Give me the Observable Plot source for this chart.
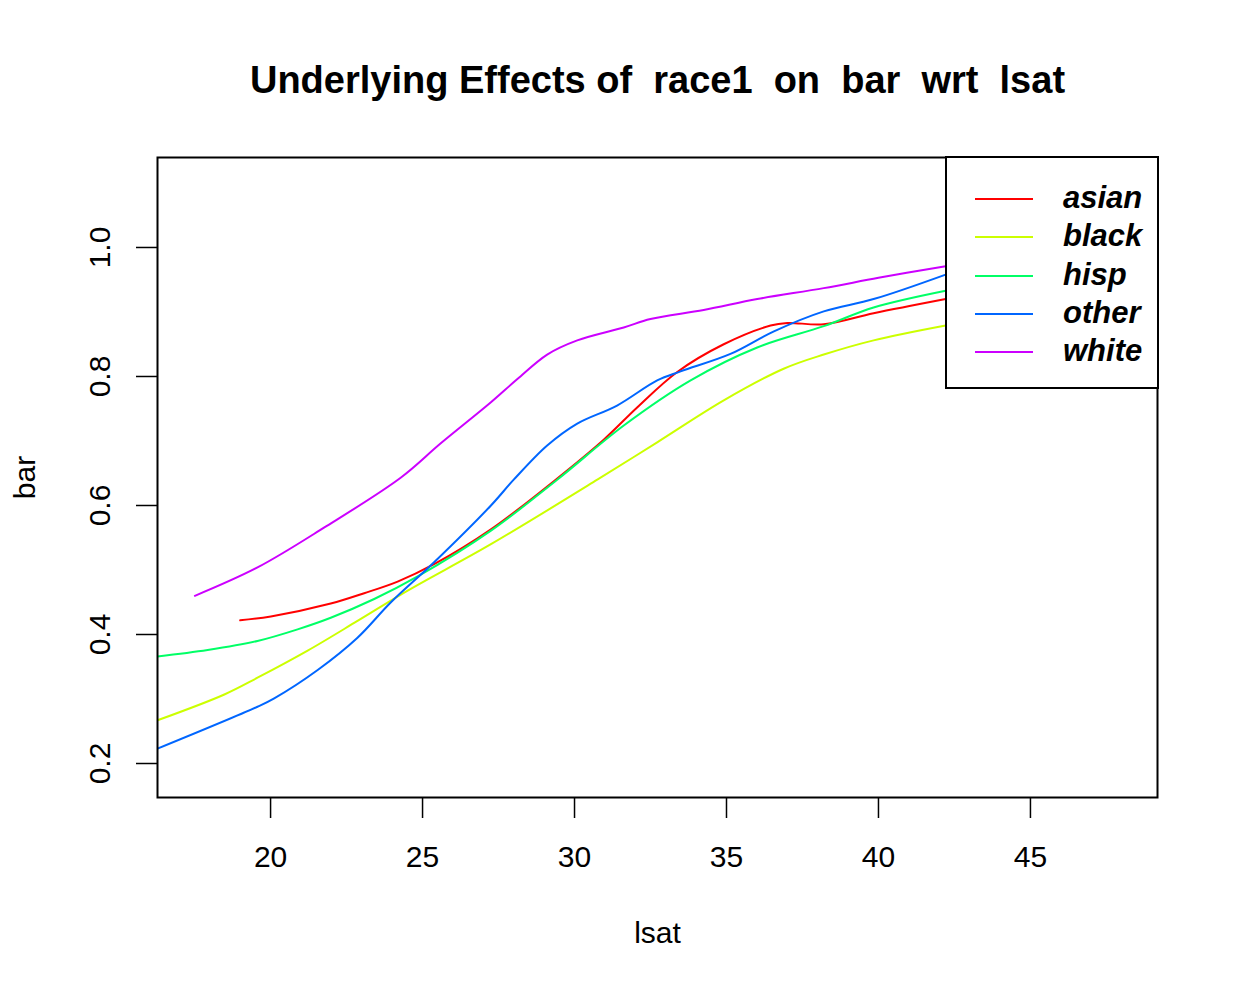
<!DOCTYPE html>
<html>
<head>
<meta charset="utf-8">
<script src="https://cdn.jsdelivr.net/npm/d3@7"></script>
<script src="https://cdn.jsdelivr.net/npm/@observablehq/plot@0.6"></script>
<style>
  html, body { margin: 0; padding: 0; background: #fff; }
  #wrap { position: relative; width: 1238px; height: 994px; font-family: "Liberation Sans", Arial, Helvetica, sans-serif; }
  #legend { position: absolute; left: 945px; top: 156px; width: 210px; height: 229px; background: #fff; border: 2px solid #000; }
  .item { position: absolute; left: 0; height: 38px; width: 210px; }
  .item .sw { position: absolute; left: 28px; width: 58px; top: 19px; height: 0; border-top: 2px solid; }
  .item .lb { position: absolute; left: 116px; top: 0; line-height: 38px; font-size: 31px; font-weight: bold; font-style: italic; color: #000; }
</style>
</head>
<body>
<div id="wrap"></div>
<script>
// ---- data ----
const categories = ["asian", "black", "hisp", "other", "white"];
const colors = ["#FF0000", "#CCFF00", "#00FF66", "#0066FF", "#CC00FF"];

const lsatAsian = [19.00, 20.01, 21.98, 23.08, 24.18, 25.38, 27.25, 29.38, 30.96, 32.06, 33.38, 34.91, 36.45, 37.00, 38.20, 39.84, 42.21];
const barAsian  = [0.422, 0.428, 0.448, 0.464, 0.482, 0.509, 0.563, 0.640, 0.702, 0.752, 0.807, 0.850, 0.879, 0.883, 0.881, 0.898, 0.920];

const lsatBlack = [16.28, 18.48, 19.57, 21.22, 22.86, 24.51, 27.25, 30.75, 32.72, 34.91, 36.88, 38.20, 39.84, 42.21];
const barBlack  = [0.267, 0.307, 0.333, 0.375, 0.421, 0.468, 0.540, 0.640, 0.698, 0.763, 0.812, 0.834, 0.856, 0.879];

const lsatHisp = [16.28, 17.93, 19.57, 20.89, 21.98, 23.41, 24.84, 27.25, 29.43, 31.62, 33.82, 36.01, 38.20, 39.84, 42.21];
const barHisp  = [0.366, 0.376, 0.390, 0.408, 0.426, 0.455, 0.490, 0.561, 0.640, 0.724, 0.794, 0.845, 0.878, 0.907, 0.933];

const lsatOther = [16.28, 19.57, 20.12, 21.55, 22.86, 23.96, 25.38, 27.25, 28.00, 29.10, 30.09, 31.40, 32.72, 33.49, 35.13, 36.56, 38.20, 39.84, 42.21];
const barOther  = [0.223, 0.288, 0.301, 0.345, 0.395, 0.450, 0.512, 0.600, 0.640, 0.693, 0.727, 0.755, 0.794, 0.808, 0.835, 0.870, 0.901, 0.920, 0.958];

const lsatWhite = [17.51, 19.57, 21.77, 24.28, 25.59, 27.25, 28.12, 29.10, 30.09, 31.62, 32.50, 34.25, 36.01, 38.20, 40.00, 42.21];
const barWhite  = [0.460, 0.504, 0.566, 0.643, 0.696, 0.760, 0.796, 0.834, 0.856, 0.876, 0.889, 0.903, 0.920, 0.937, 0.953, 0.971];

const xTicks = [20, 25, 30, 35, 40, 45];
const yTicks = [0.2, 0.4, 0.6, 0.8, 1.0];
const xDomain = [16.28, 49.18];
const yDomain = [0.1473, 1.1395];

const titleText = "Underlying Effects of  race1  on  bar  wrt  lsat";
const xLabel = "lsat";
const yLabel = "bar";

// ---- build table ----
const seriesX = [lsatAsian, lsatBlack, lsatHisp, lsatOther, lsatWhite];
const seriesY = [barAsian, barBlack, barHisp, barOther, barWhite];
const rows = [];
categories.forEach((c, i) => {
  seriesX[i].forEach((x, j) => rows.push({race: c, lsat: x, bar: seriesY[i][j]}));
});

const font = "'Liberation Sans', Arial, Helvetica, sans-serif";

const chart = Plot.plot({
  width: 1238,
  height: 994,
  marginLeft: 157,
  marginRight: 81,
  marginTop: 157,
  marginBottom: 197,
  style: {fontFamily: font, background: "#fff", color: "#000"},
  x: {domain: xDomain, axis: null},
  y: {domain: yDomain, axis: null},
  color: {domain: categories, range: colors},
  marks: [
    Plot.line(rows, {x: "lsat", y: "bar", z: "race", stroke: "race", strokeWidth: 2, curve: "catmull-rom", clip: true}),
    Plot.frame({stroke: "#000", strokeWidth: 2}),
    Plot.axisX({ticks: xTicks, tickSize: 21, tickPadding: 27, fontSize: 30, label: null, stroke: "#000", strokeWidth: 1.5}),
    Plot.axisY({ticks: yTicks, tickSize: 21, tickFormat: () => "", label: null, stroke: "#000", strokeWidth: 1.5}),
    Plot.text(yTicks, {y: d => d, text: d => d3.format(".1f")(d), frameAnchor: "left", textAnchor: "middle", lineAnchor: "middle", dx: -57, rotate: -90, fontSize: 30, fill: "#000"}),
    Plot.text([titleText], {frameAnchor: "top", lineAnchor: "middle", dy: -77, fontSize: 38, fontWeight: "bold", fill: "#000"}),
    Plot.text([xLabel], {frameAnchor: "bottom", lineAnchor: "middle", dy: 136, fontSize: 30, fill: "#000"}),
    Plot.text([yLabel], {frameAnchor: "left", textAnchor: "middle", lineAnchor: "middle", dx: -132, rotate: -90, fontSize: 30, fill: "#000"})
  ]
});

const wrap = document.getElementById("wrap");
wrap.appendChild(chart);

// legend overlay
const leg = document.createElement("div");
leg.id = "legend";
categories.forEach((c, i) => {
  const it = document.createElement("div");
  it.className = "item";
  it.style.top = (21 + i * 38.3) + "px";
  const sw = document.createElement("div");
  sw.className = "sw";
  sw.style.borderTopColor = colors[i];
  const lb = document.createElement("div");
  lb.className = "lb";
  lb.textContent = c;
  it.appendChild(sw);
  it.appendChild(lb);
  leg.appendChild(it);
});
wrap.appendChild(leg);
</script>
</body>
</html>
